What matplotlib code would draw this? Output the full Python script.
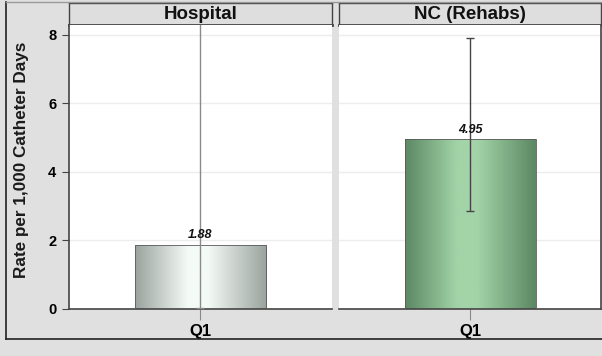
import numpy as np
import matplotlib.pyplot as plt
from matplotlib.colors import LinearSegmentedColormap
from matplotlib.patches import Rectangle
from matplotlib.lines import Line2D

plt.rcParams['font.family'] = ['Liberation Sans', 'DejaVu Sans']

panels = ['Hospital', 'NC (Rehabs)']
quarters = ['Q1']
rates = [1.88, 4.95]
err_low = [0.02, 2.87]
err_high = [9.5, 7.92]
labels = ['1.88', '4.95']
edge_cols = [('#9ba39f', '#f4fbf7'), ('#5c8863', '#a3d4a8')]
err_cols = ['#8a8a8a', '#444444']

W, H = 602, 356
fig = plt.figure(figsize=(W / 100, H / 100), dpi=100)
fig.patch.set_facecolor('#e0e0e0')

def px(x0, y0, x1, y1):
    return [x0 / W, 1 - y1 / H, (x1 - x0) / W, (y1 - y0) / H]

# outer frame
fig.add_artist(Line2D([6 / W, 6 / W], [1 - 339 / H, 1 - 2 / H], color='#222222', lw=1.2))
fig.add_artist(Line2D([6 / W, 1], [1 - 339 / H, 1 - 339 / H], color='#222222', lw=1.2))
fig.add_artist(Line2D([6 / W, 1], [1 - 2 / H, 1 - 2 / H], color='#9a9a9a', lw=1.0))

boxes = [(69, 332), (339, 601)]
ymax = 8.29

for i, (name, (x0, x1)) in enumerate(zip(panels, boxes)):
    # header strip
    hax = fig.add_axes(px(x0, 3, x1, 25))
    hax.set_facecolor('#dedede')
    hax.set_xticks([]); hax.set_yticks([])
    for s in hax.spines.values():
        s.set_color('#444444'); s.set_linewidth(1.0)
    hax.spines['bottom'].set_linewidth(2.0)
    hax.text(0.5, 0.47, name, ha='center', va='center', fontsize=13.5, fontweight='bold',
             color='#111111', transform=hax.transAxes)

    ax = fig.add_axes(px(x0, 25, x1, 309))
    ax.set_facecolor('white')
    ax.set_xlim(-0.5, 0.5)
    ax.set_ylim(0, ymax)
    ax.set_yticks([0, 2, 4, 6, 8])
    ax.grid(axis='y', color='#ededed', lw=1.0)
    ax.set_axisbelow(True)
    for s in ['top', 'right', 'left']:
        ax.spines[s].set_visible(False)
    ax.spines['bottom'].set_color('#444444')
    ax.spines['bottom'].set_linewidth(1.2)
    if i == 0:
        ax.spines['left'].set_visible(True)
        ax.spines['left'].set_color('#444444')
        ax.spines['left'].set_linewidth(1.2)
        ax.tick_params(axis='y', length=5, color='#444444', labelsize=10.5, pad=4)
        for t in ax.get_yticklabels():
            t.set_fontweight('bold')
        ax.set_ylabel('Rate per 1,000 Catheter Days', fontsize=12.3, fontweight='bold',
                      color='#1a1a1a')
        ax.yaxis.set_label_coords(-0.152, 0.525)
    else:
        ax.spines['right'].set_visible(True)
        ax.spines['right'].set_color('#444444')
        ax.spines['right'].set_linewidth(1.2)
        ax.tick_params(axis='y', length=0, labelleft=False)
    ax.set_xticks([0])
    ax.set_xticklabels(quarters, fontsize=12, fontweight='bold')
    ax.tick_params(axis='x', length=8, color='#888888', pad=3)

    bars = ax.bar([0], [rates[i]], width=0.5, color='none', edgecolor='#5a5a5a', lw=0.6, zorder=3)
    b = bars[0]
    bx0, bx1 = b.get_x(), b.get_x() + b.get_width()
    cmap = LinearSegmentedColormap.from_list('g', [(0, edge_cols[i][0]), (0.4, edge_cols[i][1]),
                                                   (0.55, edge_cols[i][1]), (1, edge_cols[i][0])])
    grad = np.linspace(0, 1, 256).reshape(1, -1)
    img = ax.imshow(grad, cmap=cmap, extent=[bx0, bx1, 0, rates[i]], aspect='auto',
                    zorder=2, interpolation='bicubic')
    img.set_clip_path(Rectangle((bx0, 0), bx1 - bx0, rates[i], transform=ax.transData))
    ax.set_xlim(-0.5, 0.5)
    ax.set_ylim(0, ymax)

    ax.errorbar([0], [rates[i]], yerr=[[rates[i] - err_low[i]], [err_high[i] - rates[i]]],
                fmt='none', ecolor=err_cols[i], elinewidth=1.0, capsize=3, capthick=1.0, zorder=4)
    ax.text(0, rates[i] + 0.1, labels[i], ha='center', va='bottom', fontsize=9,
            fontweight='bold', fontstyle='italic', color='#111111', zorder=5)

fig.savefig('out.png', dpi=100, facecolor=fig.get_facecolor())
